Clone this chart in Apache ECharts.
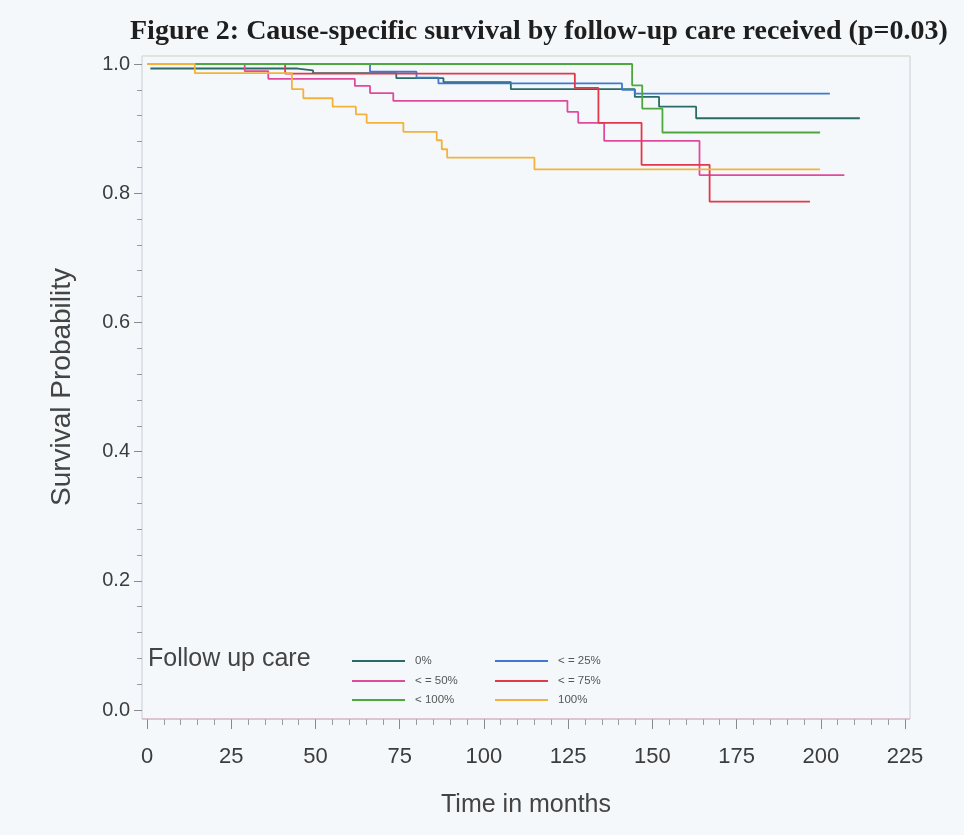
<!DOCTYPE html>
<html>
<head>
<meta charset="utf-8">
<script src="https://cdn.jsdelivr.net/npm/echarts@6/dist/echarts.min.js"></script>
<style>
html,body{margin:0;padding:0;background:#f5f8fb;}
#chart{width:964px;height:835px;}
</style>
</head>
<body>
<div id="chart"></div>
<script>
// Kaplan-Meier step data: [time in months, survival probability from that time on]
var group0 = [[1,0.993],[44.7,0.990],[49.3,0.986],[74,0.978],[88,0.972],[108,0.961],[144.8,0.949],[152,0.934],[163,0.916],[211.6,0.916]];
var group25 = [[0,1],[66.2,0.988],[80,0.979],[86.5,0.970],[141,0.960],[144.8,0.954],[202.7,0.954]];
var group50 = [[0,1],[29,0.989],[36,0.977],[61.7,0.966],[66.2,0.955],[73.1,0.943],[124.8,0.926],[128,0.909],[135.7,0.881],[164,0.828],[207,0.828]];
var group75 = [[0,1],[41,0.985],[127,0.963],[134,0.909],[146.8,0.844],[167,0.787],[196.8,0.787]];
var groupLt100 = [[0,1],[144,0.967],[147,0.931],[153,0.894],[199.8,0.894]];
var group100 = [[0,1],[14.2,0.986],[43,0.961],[46.4,0.947],[55.1,0.934],[62,0.922],[65.2,0.909],[76.1,0.895],[86,0.882],[87.5,0.868],[89.1,0.855],[115,0.837],[199.8,0.837]];

var seriesNames = ['0%', '< = 25%', '< = 50%', '< = 75%', '< 100%', '100%'];
var seriesData = [group0, group25, group50, group75, groupLt100, group100];
var seriesColors = ['#2b6a66', '#3f78d0', '#e04a9e', '#e2394a', '#4ea83e', '#f4b23a'];

var xTicks = {min: 0, max: 225, step: 25};
var yTicks = {min: 0, max: 1, step: 0.2};

var chart = echarts.init(document.getElementById('chart'), null, {renderer: 'canvas'});

var series = seriesNames.map(function (n, i) {
  return {
    name: n,
    type: 'line',
    step: 'end',
    symbol: 'none',
    data: seriesData[i],
    lineStyle: {color: seriesColors[i], width: 1.8},
    itemStyle: {color: seriesColors[i]},
    animation: false
  };
});

var legendPos = [
  {left: 352, top: 655}, {left: 495, top: 655},
  {left: 352, top: 675}, {left: 495, top: 675},
  {left: 352, top: 694}, {left: 495, top: 694}
];
var legends = seriesNames.map(function (n, i) {
  return {
    data: [n],
    left: legendPos[i].left,
    top: legendPos[i].top,
    padding: 0,
    icon: 'rect',
    itemWidth: 53,
    itemHeight: 2,
    selectedMode: false,
    textStyle: {fontFamily: 'Liberation Sans', fontSize: 11.5, color: '#555', padding: [0, 0, 0, 5]}
  };
});

var option = {
  backgroundColor: '#f5f8fb',
  animation: false,
  title: {
    text: 'Figure 2: Cause-specific survival by follow-up care received (p=0.03)',
    left: 125,
    top: 13,
    textStyle: {fontFamily: 'Liberation Serif', fontWeight: 'bold', fontSize: 28, color: '#1e1e1e'}
  },
  legend: legends,
  grid: {left: 147, right: 59, top: 64, bottom: 125, containLabel: false},
  graphic: [
    {type: 'rect', z: 0, silent: true, shape: {x: 142, y: 56, width: 768, height: 663},
     style: {fill: 'rgba(0,0,0,0)', stroke: '#c9ccd6', lineWidth: 1}},
    {type: 'line', z: 1, silent: true, shape: {x1: 142, y1: 719, x2: 910, y2: 719},
     style: {stroke: '#dba6b6', lineWidth: 1}},
    {type: 'line', z: 1, silent: true, shape: {x1: 142, y1: 56, x2: 910, y2: 56},
     style: {stroke: '#e3e9c8', lineWidth: 1}},
    {type: 'text', left: 148, top: 647, silent: true,
     style: {text: 'Follow up care', fontFamily: 'Liberation Sans', fontSize: 25, fill: '#444'}}
  ],
  xAxis: {
    type: 'value',
    min: xTicks.min, max: xTicks.max, interval: xTicks.step,
    offset: 9,
    name: 'Time in months',
    nameLocation: 'middle',
    nameGap: 74,
    nameTextStyle: {fontFamily: 'Liberation Sans', fontSize: 25, color: '#444'},
    axisLine: {show: false, onZero: false},
    axisTick: {show: true, length: 10, lineStyle: {color: '#8a8a8a'}},
    minorTick: {show: true, splitNumber: 5, length: 6, lineStyle: {color: '#9a9a9a'}},
    splitLine: {show: false},
    axisLabel: {margin: 27, fontFamily: 'Liberation Sans', fontSize: 22, color: '#3c3c3c'}
  },
  yAxis: {
    type: 'value',
    min: yTicks.min, max: yTicks.max, interval: yTicks.step,
    offset: 5,
    name: 'Survival Probability',
    nameLocation: 'middle',
    nameGap: 66,
    nameTextStyle: {fontFamily: 'Liberation Sans', fontSize: 28, color: '#444'},
    axisLine: {show: false, onZero: false},
    axisTick: {show: true, length: 8, lineStyle: {color: '#8a8a8a'}},
    minorTick: {show: true, splitNumber: 5, length: 5, lineStyle: {color: '#9a9a9a'}},
    splitLine: {show: false},
    axisLabel: {margin: 12, fontFamily: 'Liberation Sans', fontSize: 20, color: '#3c3c3c',
      formatter: function (v) { return v.toFixed(1); }}
  },
  series: series
};
chart.setOption(option);
</script>
</body>
</html>
